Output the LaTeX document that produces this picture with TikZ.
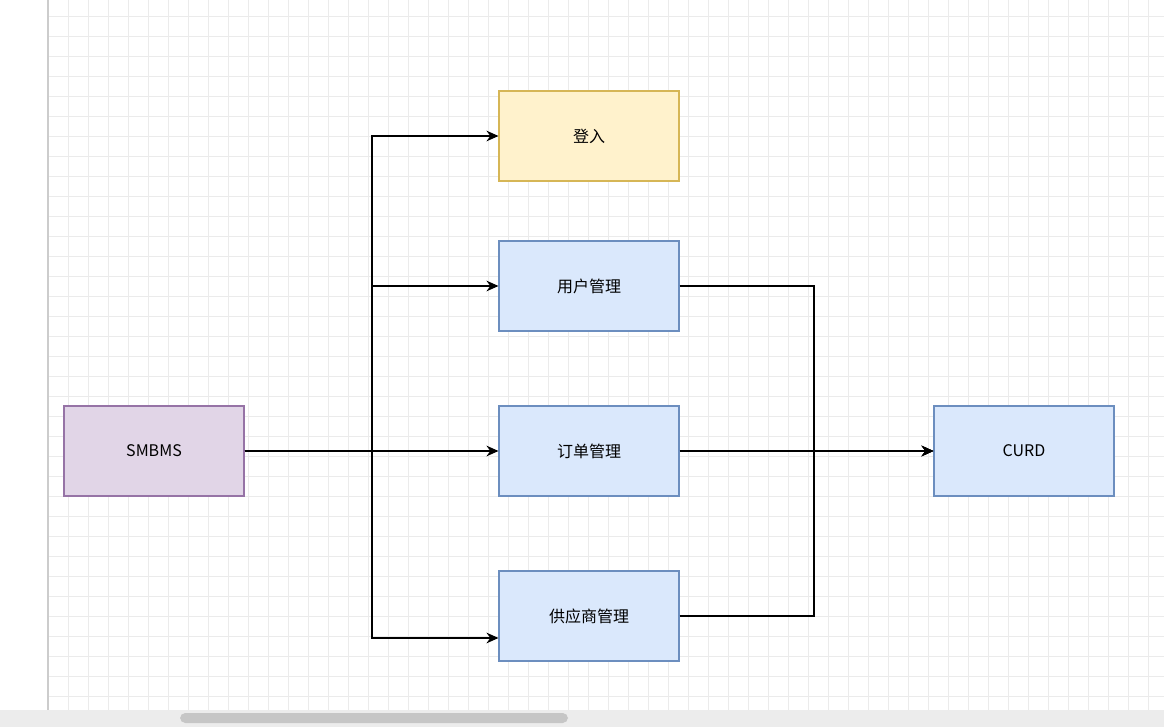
\documentclass[tikz,border=0pt]{standalone}
\usepackage{fontspec}
\setmainfont{Noto Sans CJK SC}
\usetikzlibrary{arrows.meta}
\definecolor{gridc}{HTML}{EBEBEB}
\definecolor{purf}{HTML}{E1D5E7}\definecolor{purd}{HTML}{9673A6}
\definecolor{yelf}{HTML}{FFF2CC}\definecolor{yeld}{HTML}{D6B656}
\definecolor{bluf}{HTML}{DAE8FC}\definecolor{blud}{HTML}{6C8EBF}
\begin{document}
\begin{tikzpicture}[x=0.75pt,y=-0.75pt,
  box/.style={draw, line width=0.8pt, minimum width=135pt, minimum height=67.5pt, font=\fontsize{12}{14}\selectfont},
  arr/.style={draw, line width=1pt, -{Stealth[length=9pt,width=8pt]}}]
\useasboundingbox (0,0) rectangle (1164,727);
\fill[white] (0,0) rectangle (1164,727);
\foreach \x in {48,68,...,1164} \draw[gridc,line width=0.5pt] (\x,0) -- (\x,710);
\foreach \y in {16,36,...,710} \draw[gridc,line width=0.5pt] (48,\y) -- (1164,\y);
\draw[gray!40,line width=0.8pt] (48,0) -- (48,710);
\fill[gray!15] (0,710) rectangle (1164,727);
\fill[gray!45,rounded corners=4pt] (180,713) rectangle (568,723);

\node[box, fill=purf, draw=purd] (s) at (154,451) {SMBMS};
\node[box, fill=yelf, draw=yeld] (l) at (589,136) {登入};
\node[box, fill=bluf, draw=blud] (u) at (589,286) {用户管理};
\node[box, fill=bluf, draw=blud] (o) at (589,451) {订单管理};
\node[box, fill=bluf, draw=blud] (p) at (589,616) {供应商管理};
\node[box, fill=bluf, draw=blud] (c) at (1024,451) {CURD};

\foreach \t in {l,u,o} \path[arr] (s.east) -- (372,451) |- (\t.west);
\path[arr] (s.east) -- (372,451) |- ([yshift=-16.5pt]p.west);
\foreach \t in {u,o,p} \path[arr] (\t.east) -| (814,451) -- (c.west);
\end{tikzpicture}
\end{document}
